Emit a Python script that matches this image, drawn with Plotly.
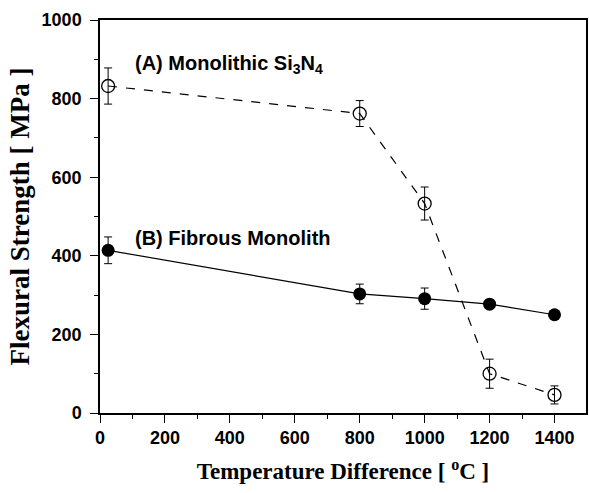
import plotly.graph_objects as go

temp = [25, 800, 1000, 1200, 1400]
mono_strength = [832, 762, 533, 100, 46]
mono_err = [46, 33, 42, 37, 23]
fibrous_strength = [414, 303, 291, 277, 250]
fibrous_err = [34, 25, 27, 10, 10]
x_ticks = [0, 200, 400, 600, 800, 1000, 1200, 1400]
y_ticks = [0, 200, 400, 600, 800, 1000]

fig = go.Figure()
fig.add_trace(go.Scatter(
    x=temp, y=mono_strength, mode="lines+markers",
    line=dict(color="black", width=1.2, dash="dash"),
    marker=dict(symbol="circle-open", size=13, color="black", line=dict(width=1.3)),
    error_y=dict(type="data", array=mono_err, visible=True, color="black", thickness=1, width=4),
    showlegend=False))
fig.add_trace(go.Scatter(
    x=temp, y=fibrous_strength, mode="lines+markers",
    line=dict(color="black", width=1.2),
    marker=dict(symbol="circle", size=13, color="black"),
    error_y=dict(type="data", array=fibrous_err, visible=True, color="black", thickness=1, width=4),
    showlegend=False))

fig.add_annotation(x=0.068, y=886, xref="paper", yref="y", xanchor="left", yanchor="middle",
                   text="<b>(A) Monolithic Si<sub>3</sub>N<sub>4</sub></b>", showarrow=False,
                   font=dict(family="Liberation Sans", size=20, color="black"))
fig.add_annotation(x=0.068, y=445, xref="paper", yref="y", xanchor="left", yanchor="middle",
                   text="<b>(B) Fibrous Monolith</b>", showarrow=False,
                   font=dict(family="Liberation Sans", size=20, color="black"))

fig.update_xaxes(range=[0, 1497], tickmode="array", tickvals=x_ticks,
                 ticktext=["<b>%d</b>" % v for v in x_ticks],
                 tickfont_family="Liberation Sans", tickfont_size=18, tickfont_color="black",
                 showline=True, linecolor="black", linewidth=1.5, mirror=True,
                 showgrid=False, zeroline=False, ticks="outside", ticklen=8, tickwidth=1.2,
                 tickcolor="black",
                 minor=dict(dtick=100, tick0=0, ticks="outside", ticklen=4, tickcolor="black"),
                 title=dict(text="<b>Temperature Difference [ <sup>o</sup>C ]</b>", standoff=16,
                            font=dict(family="Liberation Serif", size=23, color="black")))
fig.update_yaxes(range=[0, 1000], tickmode="array", tickvals=y_ticks,
                 ticktext=["<b>%d</b>" % v for v in y_ticks],
                 tickfont_family="Liberation Sans", tickfont_size=18, tickfont_color="black",
                 ticklabelstandoff=5,
                 showline=True, linecolor="black", linewidth=1.5, mirror=True,
                 showgrid=False, zeroline=False, ticks="outside", ticklen=8, tickwidth=1.2,
                 tickcolor="black",
                 minor=dict(dtick=100, tick0=0, ticks="outside", ticklen=4, tickcolor="black"),
                 title=dict(text="<b>Flexural Strength [ MPa ]</b>", standoff=4,
                            font=dict(family="Liberation Serif", size=27, color="black")))

fig.update_layout(width=589, height=493, margin=dict(l=100, r=1, t=20, b=80),
                  font=dict(family="Liberation Sans", size=18, color="black"),
                  paper_bgcolor="white", plot_bgcolor="white")

fig.write_html("out.html")
